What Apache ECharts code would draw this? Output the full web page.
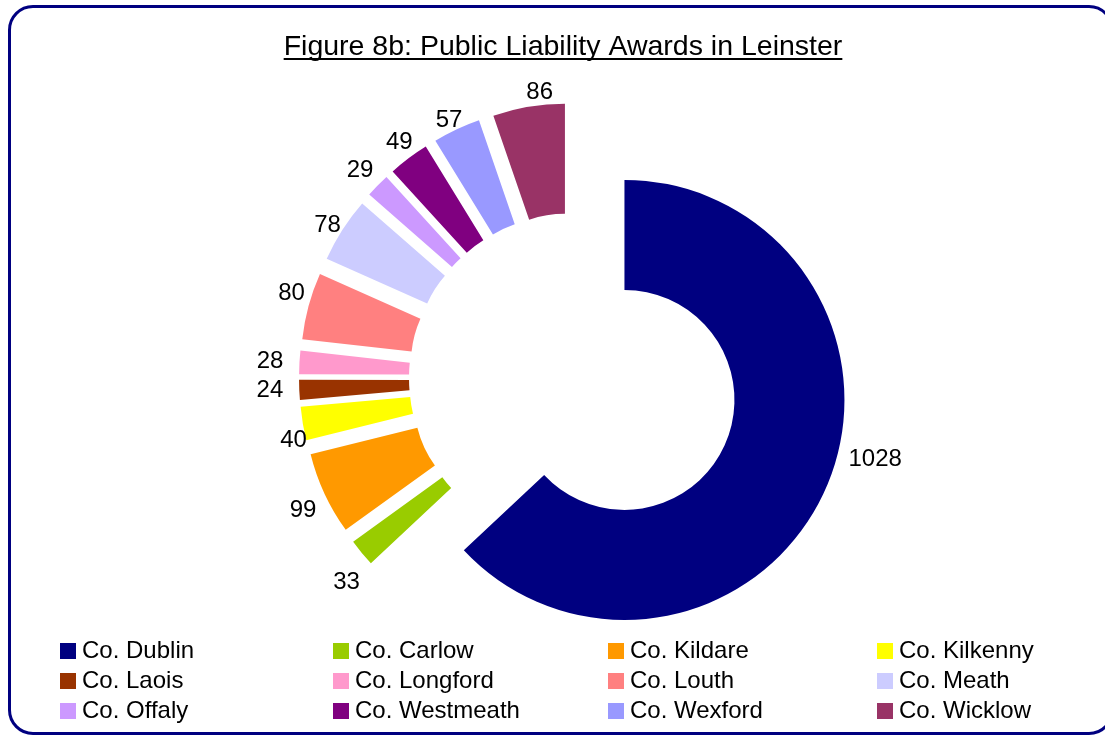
<!DOCTYPE html>
<html>
<head>
<meta charset="utf-8">
<script src="https://cdn.jsdelivr.net/npm/echarts@6/dist/echarts.min.js"></script>
<style>
  html, body { margin: 0; padding: 0; background: #ffffff; }
  #frame { position: absolute; left: 8px; top: 5px; width: 1106px; height: 730px;
           border: 3px solid #000080; border-radius: 25px; box-sizing: border-box; }
  #chart { position: absolute; left: 0; top: 0; width: 1105px; height: 736px; }
</style>
</head>
<body>
<div id="frame"></div>
<div id="chart"></div>
<script>
const titleText = 'Figure 8b: Public Liability Awards in Leinster';
const counties = ['Co. Dublin', 'Co. Carlow', 'Co. Kildare', 'Co. Kilkenny', 'Co. Laois', 'Co. Longford',
                  'Co. Louth', 'Co. Meath', 'Co. Offaly', 'Co. Westmeath', 'Co. Wexford', 'Co. Wicklow'];
const awards = [1028, 33, 99, 40, 24, 28, 80, 78, 29, 49, 57, 86];
const colors = ['#000080', '#99CC00', '#FF9900', '#FFFF00', '#993300', '#FF99CC',
                '#FF8080', '#CCCCFF', '#CC99FF', '#800080', '#9999FF', '#993366'];
// label nudges (style only): shift in px from the default outside label spot
const labelShiftX = [8, 11, 6, 19, -1, -1, 11, 12, 8, 15, 15, 31];
const labelShiftY = [-32, 23, 12, 15, 0, 0, -10, 0.5, -8, -8, 0.5, -5];

// legend columns (Excel lays the legend out row by row, 4 per row)
const legendCols = [0, 1, 2, 3].map(c => counties.filter((_, i) => i % 4 === c));

const FONT = '"Liberation Sans", Arial, sans-serif';
const titleSize = 28.5;
const titleX = 558;
const cnv = document.createElement('canvas').getContext('2d');
cnv.font = titleSize + 'px ' + FONT;
const titleW = cnv.measureText(titleText).width;

// translate the wanted label nudges into radial (length) and horizontal (length2) label-line lengths
const total = awards.reduce((a, b) => a + b, 0);
let acc = 0;
const labelLines = awards.map((v, i) => {
  const mid = (acc + v / 2) / total * 2 * Math.PI; acc += v;
  const dx = Math.sin(mid), dy = -Math.cos(mid);
  const t = labelShiftY[i] === 0 ? 0 : labelShiftY[i] / dy;
  const resid = labelShiftX[i] - t * dx;
  return { length: 10 + t, length2: dx < 0 ? -resid : resid };
});

const chart = echarts.init(document.getElementById('chart'), null, { renderer: 'canvas' });

const legendLefts = [60, 333, 608, 877];
const legends = legendCols.map((names, c) => ({
  orient: 'vertical',
  left: legendLefts[c],
  top: 639,
  padding: 0,
  itemWidth: 16,
  itemHeight: 16,
  itemGap: 6,
  icon: 'rect',
  selectedMode: false,
  data: names,
  textStyle: { fontFamily: FONT, fontSize: 24, color: '#000', lineHeight: 24, padding: [0, 0, 0, 1] }
}));

const option = {
  animation: false,
  backgroundColor: 'transparent',
  title: {
    text: titleText,
    left: titleX,
    textAlign: 'center',
    top: 28,
    textStyle: { fontFamily: FONT, fontSize: titleSize, fontWeight: 'normal', color: '#000' }
  },
  graphic: [{
    type: 'line',
    shape: { x1: titleX + 5 - titleW / 2, y1: 59, x2: titleX + 5 + titleW / 2, y2: 59 },
    style: { stroke: '#000', lineWidth: 2 },
    silent: true
  }],
  legend: legends,
  series: [{
    type: 'pie',
    center: [574, 378],
    radius: [110, 220],
    startAngle: 90,
    clockwise: true,
    selectedMode: 'multiple',
    selectedOffset: 55,
    avoidLabelOverlap: false,
    labelLayout: { hideOverlap: false },
    emphasis: { disabled: true, scale: false },
    select: { itemStyle: { borderWidth: 0 } },
    label: {
      show: true,
      position: 'outside',
      formatter: '{c}',
      fontFamily: FONT,
      fontSize: 24,
      lineHeight: 24,
      color: '#000',
      distance: 4
    },
    labelLine: { show: false, length: 10, length2: 0 },
    data: counties.map((name, i) => ({
      name: name,
      value: awards[i],
      selected: true,
      itemStyle: { color: colors[i] },
      labelLine: { show: false, length: labelLines[i].length, length2: labelLines[i].length2 }
    }))
  }]
};
chart.setOption(option);
</script>
</body>
</html>
